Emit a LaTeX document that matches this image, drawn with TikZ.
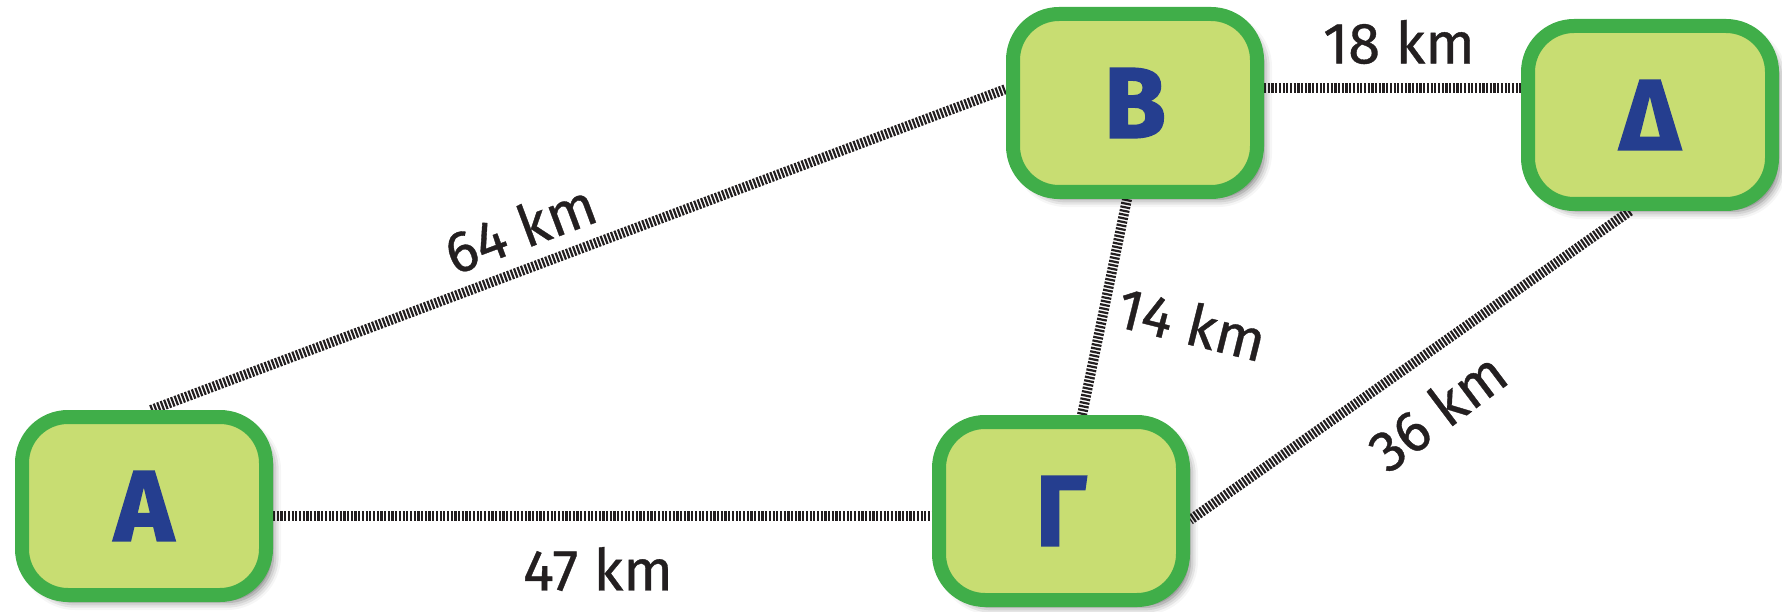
\documentclass[tikz,border=0pt]{standalone}
\usepackage{fontspec}
\setmainfont{Fira Sans}
\newfontfamily\letterfont{Fira Sans}[BoldFeatures={FakeBold=2}]
\newfontfamily\distfont{Fira Sans}[FakeBold=0.6]
\usetikzlibrary{shadows.blur}
\definecolor{boxfill}{HTML}{C8DD72}
\definecolor{boxline}{HTML}{40AE49}
\definecolor{letter}{HTML}{253E8F}
\definecolor{rail}{HTML}{231F20}
\pgfdeclarelayer{background}
\pgfsetlayers{background,main}
\tikzset{
  town/.style={draw=boxline, fill=boxfill, line width=14pt, rounded corners=46pt,
    minimum width=244pt, minimum height=178pt, inner sep=0pt,
    text=letter, font=\fontsize{100}{110}\letterfont\bfseries,
    blur shadow={shadow xshift=7pt, shadow yshift=-7pt, shadow blur radius=8pt, shadow opacity=55}},
  railway/.style={draw=rail, line width=10pt, dash pattern=on 2.2pt off 1.5pt},
  dist/.style={text=rail, font=\fontsize{58}{64}\distfont, inner sep=0pt}
}
\begin{document}
\begin{tikzpicture}[x=1pt,y=-1pt]
\useasboundingbox (0,0) rectangle (1782,612);
\node[town] (A) at (144,506) {Α};
\node[town] (B) at (1135,103) {Β};
\node[town] (D) at (1650,115) {Δ};
\node[town] (G) at (1061,511) {Γ};
\begin{pgfonlayer}{background}
\draw[railway] ([xshift=7pt]A.north) -- ([yshift=14pt]B.west);
\draw[railway] ([yshift=15pt]B.east) -- ([yshift=27pt]D.west);
\draw[railway] ([xshift=-8pt]B.south) -- ([xshift=21pt]G.north);
\draw[railway] ([xshift=-20pt]D.south) -- ([yshift=-9pt]G.east);
\draw[railway] ([yshift=-10pt]A.east) -- ([yshift=-5pt]G.west);
\end{pgfonlayer}
\node[dist, rotate=20.5] (l64) at (520,228) {64 km};
\node[dist] (l18) at (1399,42) {18 km};
\node[dist, rotate=-14] (l14) at (1192,323) {14 km};
\node[dist, rotate=37] (l36) at (1437,411) {36 km};
\node[dist] (l47) at (598,569) {47 km};
\end{tikzpicture}
\end{document}
